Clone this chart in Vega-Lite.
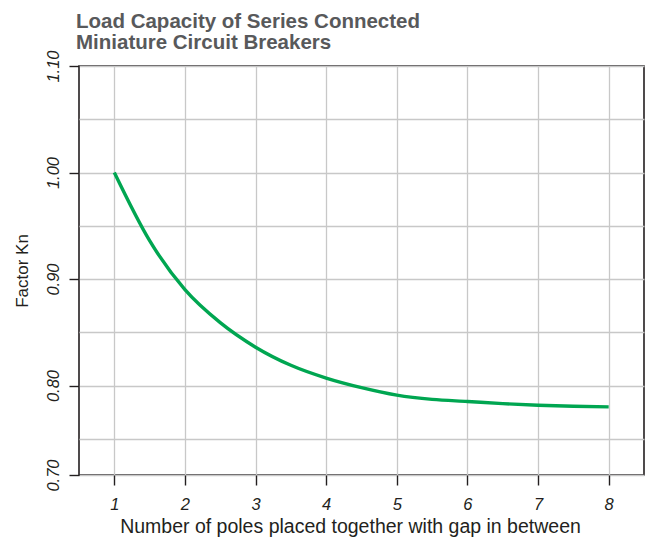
{
  "$schema": "https://vega.github.io/schema/vega-lite/v6.json",
  "width": 565,
  "height": 409,
  "autosize": {"type": "none"},
  "padding": {"left": 79, "top": 66, "right": 7, "bottom": 70},
  "background": "white",
  "title": {
    "text": ["Load Capacity of Series Connected", "Miniature Circuit Breakers"],
    "anchor": "start",
    "frame": "group",
    "font": "Liberation Sans",
    "fontSize": 20.5,
    "fontWeight": "bold",
    "color": "#58595b",
    "lineHeight": 21,
    "offset": -4,
    "dx": -3
  },
  "data": {
    "values": [
      {"poles": 1.0, "factor": 1.000},
      {"poles": 1.5, "factor": 0.936},
      {"poles": 2.0, "factor": 0.890},
      {"poles": 2.5, "factor": 0.859},
      {"poles": 3.0, "factor": 0.836},
      {"poles": 3.5, "factor": 0.819},
      {"poles": 4.0, "factor": 0.807},
      {"poles": 4.5, "factor": 0.798},
      {"poles": 5.0, "factor": 0.791},
      {"poles": 5.5, "factor": 0.787},
      {"poles": 6.0, "factor": 0.785},
      {"poles": 6.5, "factor": 0.783},
      {"poles": 7.0, "factor": 0.7815},
      {"poles": 7.5, "factor": 0.7805},
      {"poles": 8.0, "factor": 0.780}
    ]
  },
  "mark": {"type": "line", "interpolate": "monotone", "color": "#00a651", "strokeWidth": 3.4, "clip": true},
  "encoding": {
    "x": {
      "field": "poles",
      "type": "quantitative",
      "scale": {"domain": [0.5, 8.5], "nice": false, "zero": false},
      "axis": {
        "values": [1, 2, 3, 4, 5, 6, 7, 8],
        "format": "d",
        "grid": true,
        "gridColor": "#c8c8c8",
        "gridWidth": 1.3,
        "domain": false,
        "ticks": true,
        "tickColor": "#231f20",
        "tickSize": 10,
        "tickWidth": 1.4,
        "labelFont": "Liberation Sans",
        "labelFontStyle": "italic",
        "labelFontSize": 16.5,
        "labelColor": "#231f20",
        "labelPadding": 11,
        "title": "Number of poles placed together with gap in between",
        "titleFont": "Liberation Sans",
        "titleFontSize": 19.5,
        "titleFontWeight": "normal",
        "titleColor": "#231f20",
        "titlePadding": 5,
        "titleX": 271
      }
    },
    "y": {
      "field": "factor",
      "type": "quantitative",
      "scale": {"domain": [0.716, 1.1], "nice": false, "zero": false},
      "axis": {
        "values": [0.716, 0.75, 0.8, 0.85, 0.9, 0.95, 1.0, 1.05, 1.1],
        "labelExpr": "datum.value < 0.72 ? '0.70' : (round(datum.value * 100) % 10 == 0 ? format(datum.value, '.2f') : '')",
        "grid": true,
        "gridColor": "#c8c8c8",
        "gridWidth": 1.3,
        "domain": false,
        "tickColor": "#231f20",
        "tickSize": 10,
        "tickWidth": 1.4,
        "tickOpacity": {"condition": {"test": "round(datum.value * 100) % 10 == 5", "value": 0}, "value": 1},
        "labelAngle": 270,
        "labelAlign": "center",
        "labelBaseline": "bottom",
        "labelFont": "Liberation Sans",
        "labelFontStyle": "italic",
        "labelFontSize": 16.5,
        "labelColor": "#231f20",
        "labelPadding": 8,
        "title": "Factor Kn",
        "titleFont": "Liberation Sans",
        "titleFontSize": 17,
        "titleFontWeight": "normal",
        "titleColor": "#231f20",
        "titlePadding": 14
      }
    }
  },
  "config": {"view": {"stroke": "#231f20", "strokeWidth": 1.6}}
}
